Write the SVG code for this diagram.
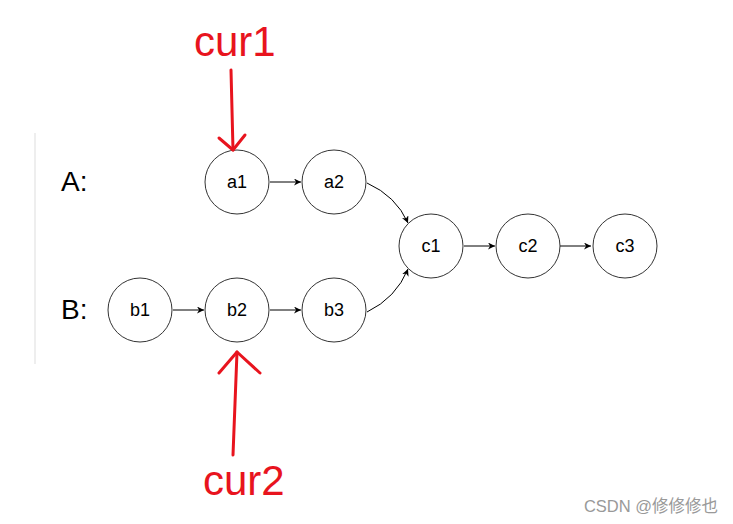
<svg xmlns="http://www.w3.org/2000/svg" width="733" height="524" viewBox="0 0 733 524">
<defs>
<style>
.node circle{fill:#fff;stroke:#333;stroke-width:1}
.node text{font-family:"Liberation Sans",Arial,sans-serif;font-size:18px;fill:#000;text-anchor:middle;dominant-baseline:central}
.conn path{fill:none;stroke:#000;stroke-width:1}
.lbl{font-family:"Liberation Sans",Arial,sans-serif;font-size:28px;fill:#000}
.cur{font-family:"Liberation Sans",Arial,sans-serif;font-size:42px;fill:#e8141e}
.red{fill:none;stroke:#e8141e;stroke-width:3;stroke-linecap:round;stroke-linejoin:round}
</style>
<marker id="ah" viewBox="0 0 10 10" refX="10" refY="5" markerWidth="7" markerHeight="7" markerUnits="userSpaceOnUse" orient="auto">
<path d="M0,0 L10,5 L0,10 L3,5 Z" fill="#000"/>
</marker>
</defs>
<rect width="733" height="524" fill="#fff"/>
<line x1="35" y1="133" x2="35" y2="364" stroke="#ddd" stroke-width="1"/>
<text class="lbl" x="61" y="191">A:</text>
<text class="lbl" x="61" y="319">B:</text>
<g class="conn">
<path d="M270,182 L301,182" marker-end="url(#ah)"/>
<path d="M173,310 L204,310" marker-end="url(#ah)"/>
<path d="M270,310 L301,310" marker-end="url(#ah)"/>
<path d="M367,183 Q396,196 408,223" marker-end="url(#ah)"/>
<path d="M367,312 Q396,298 408,269" marker-end="url(#ah)"/>
<path d="M464,246 L495,246" marker-end="url(#ah)"/>
<path d="M560,246 L591,246" marker-end="url(#ah)"/>
</g>
<g id="a1" class="node"><circle cx="237" cy="182" r="32"/><text x="237" y="182">a1</text></g>
<g id="a2" class="node"><circle cx="334" cy="182" r="32"/><text x="334" y="182">a2</text></g>
<g id="b1" class="node"><circle cx="140" cy="310" r="32"/><text x="140" y="310">b1</text></g>
<g id="b2" class="node"><circle cx="237" cy="310" r="32"/><text x="237" y="310">b2</text></g>
<g id="b3" class="node"><circle cx="334" cy="310" r="32"/><text x="334" y="310">b3</text></g>
<g id="c1" class="node"><circle cx="431" cy="246" r="32"/><text x="431" y="246">c1</text></g>
<g id="c2" class="node"><circle cx="528" cy="246" r="32"/><text x="528" y="246">c2</text></g>
<g id="c3" class="node"><circle cx="625" cy="246" r="32"/><text x="625" y="246">c3</text></g>
<g id="cur1">
<text class="cur" x="194" y="56">cur1</text>
<path class="red" d="M231,70 L233,150"/>
<path class="red" d="M219,138 L233,150 L245,135"/>
</g>
<g id="cur2">
<text class="cur" x="203" y="495">cur2</text>
<path class="red" d="M233,455 L237,352"/>
<path class="red" d="M219,373 L237,352 L260,373"/>
</g>
<text x="718" y="512" text-anchor="end" font-family="'Liberation Sans','Noto Sans CJK SC',sans-serif" font-size="16.5" fill="#999">CSDN @修修修也</text>
</svg>
